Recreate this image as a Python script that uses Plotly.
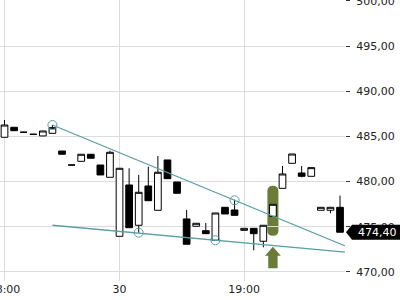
import plotly.graph_objects as go

# ---- data ----
idx = list(range(36))
opens = [484.91, 486.02, 485.47, 485.24, 485.06, 485.35, 483.39, 481.84, 482.25, 483.03,
         481.84, 480.48, 473.95, 479.63, 475.17, 479.52, 476.83, 482.40, 479.96, 475.87,
         475.06, 474.57, 473.51, 477.16, 476.86, 474.61, 474.83, 473.40, 476.16, 479.26,
         482.03, 480.96, 480.59, 476.83, 476.83, 477.16]
highs = [486.83, 486.02, 485.47, 485.24, 485.61, 486.27, 483.39, 481.84, 483.03, 483.03,
         481.84, 483.43, 481.48, 481.48, 480.74, 481.66, 482.84, 482.40, 479.96, 476.86,
         475.39, 475.42, 476.53, 477.16, 478.00, 474.83, 474.83, 475.17, 477.49, 481.73,
         483.06, 481.73, 481.55, 477.16, 477.16, 478.45]
lows = [484.91, 485.64, 485.47, 485.24, 485.06, 485.35, 483.03, 481.84, 482.25, 482.59,
        480.74, 480.48, 473.95, 474.90, 474.35, 477.89, 476.83, 480.33, 478.71, 473.07,
        475.06, 474.24, 473.51, 476.42, 476.27, 474.61, 472.40, 472.73, 476.16, 479.26,
        482.03, 480.48, 480.59, 476.83, 476.50, 474.40]
closes = [486.27, 485.64, 485.47, 485.24, 485.61, 485.98, 483.03, 481.84, 483.03, 482.59,
          480.74, 483.25, 481.48, 474.90, 478.82, 477.89, 481.04, 480.33, 478.71, 473.07,
          475.39, 474.24, 476.53, 476.42, 476.27, 474.83, 474.24, 475.17, 477.49, 480.85,
          483.06, 480.59, 481.55, 477.16, 477.16, 474.40]

tick_idx = [0, 12, 25]
tick_text = ["18:00", "30", "19:00"]

upper_anchor = [(5, 486.27), (24, 477.94)]
lower_anchor = [(5, 475.17), (22, 473.51)]
circle_x = [5, 24, 14, 22]
circle_y = [486.27, 477.94, 474.35, 473.51]

highlight_idx = 28
highlight_low, highlight_high = 474.02, 479.55
arrow_tip, arrow_neck, arrow_base = 472.80, 471.80, 470.41

last_price = closes[-1]

x_range = [-0.47, 35.52]
y_range = [469.0, 500.11]

TEAL = "#5b9fa4"
OLIVE = "#6b7c3a"
FONT = "DejaVu Sans"


def extend(p0, p1, x_end):
    (xa, ya), (xb, yb) = p0, p1
    s = (yb - ya) / (xb - xa)
    return [xa, x_end], [ya, ya + s * (x_end - xa)]


fig = go.Figure()

fig.add_trace(go.Candlestick(
    x=idx, open=opens, high=highs, low=lows, close=closes,
    increasing=dict(line=dict(color="black", width=1), fillcolor="white"),
    decreasing=dict(line=dict(color="black", width=1), fillcolor="black"),
    whiskerwidth=0, showlegend=False, hoverinfo="skip"))

for anc in (upper_anchor, lower_anchor):
    lx, ly = extend(anc[0], anc[1], 37)
    fig.add_trace(go.Scatter(x=lx, y=ly, mode="lines",
                             line=dict(color=TEAL, width=1.3),
                             showlegend=False, hoverinfo="skip"))

fig.add_trace(go.Scatter(x=circle_x, y=circle_y, mode="markers",
                         marker=dict(symbol="circle-open", size=9,
                                     color=TEAL, line=dict(width=1, color=TEAL)),
                         showlegend=False, hoverinfo="skip"))

# highlight pill
hx = highlight_idx
hw = 0.574
ry = 0.609
x0, x1 = hx - hw, hx + hw
y0, y1 = highlight_low, highlight_high
pill = (f"M{x0},{y0+ry} L{x0},{y1-ry} Q{x0},{y1} {hx},{y1} Q{x1},{y1} {x1},{y1-ry} "
        f"L{x1},{y0+ry} Q{x1},{y0} {hx},{y0} Q{x0},{y0} {x0},{y0+ry} Z")
# arrow
ah, sh = 0.83, 0.49
arrow = (f"M{hx},{arrow_tip} L{hx+ah},{arrow_neck} L{hx+sh},{arrow_neck} L{hx+sh},{arrow_base} "
         f"L{hx-sh},{arrow_base} L{hx-sh},{arrow_neck} L{hx-ah},{arrow_neck} Z")

plot_w = 345.0
ph = 0.83
tag = (f"M{346/plot_w},{last_price} L{352/plot_w},{last_price+ph} L1.2,{last_price+ph} "
       f"L1.2,{last_price-ph} L{352/plot_w},{last_price-ph} Z")

fig.update_layout(
    shapes=[
        dict(type="path", path=pill, xref="x", yref="y", fillcolor=OLIVE,
             line=dict(width=0), layer="below"),
        dict(type="path", path=arrow, xref="x", yref="y", fillcolor=OLIVE,
             line=dict(width=0), layer="above"),
        dict(type="path", path=tag, xref="paper", yref="y", fillcolor="black",
             line=dict(width=0), layer="above"),
    ],
    annotations=[dict(x=377/plot_w, xref="paper", y=last_price, yref="y",
                      text=f"{last_price:.2f}".replace(".", ","), showarrow=False,
                      xanchor="center", yanchor="middle",
                      font=dict(family=FONT, size=11, color="white"))],
)

fig.update_layout(
    width=400, height=300,
    margin=dict(l=0, r=55, t=0, b=0, autoexpand=False),
    paper_bgcolor="white", plot_bgcolor="white",
    separators=",.",
    boxgap=0.3, boxgroupgap=0,
    showlegend=False,
    xaxis=dict(range=x_range, tickvals=tick_idx, ticktext=tick_text,
               showgrid=True, gridcolor="#dcdcdc", gridwidth=1,
               zeroline=False, showline=False, ticks="",
               ticklabeloverflow="allow", automargin=False,
               tickfont=dict(family=FONT, size=11, color="#222"),
               rangeslider=dict(visible=False), fixedrange=True),
    xaxis2=dict(range=x_range, tickvals=tick_idx, overlaying="x", anchor="free",
                position=8/300, showticklabels=False, showgrid=False,
                zeroline=False, showline=False, ticks="outside", ticklen=5,
                tickcolor="#333", tickwidth=1, automargin=False),
    yaxis=dict(range=y_range, domain=[19/300, 1], side="right", dtick=5,
               tick0=470, tickformat=".2f", ticklabeloverflow="allow",
               automargin=False,
               showgrid=True, gridcolor="#dcdcdc", gridwidth=1,
               zeroline=False, showline=False, ticks="outside", ticklen=4,
               tickcolor="#333", tickwidth=1, ticklabelstandoff=4,
               tickfont=dict(family=FONT, size=11, color="#222")),
)

fig.write_html("out.html")
